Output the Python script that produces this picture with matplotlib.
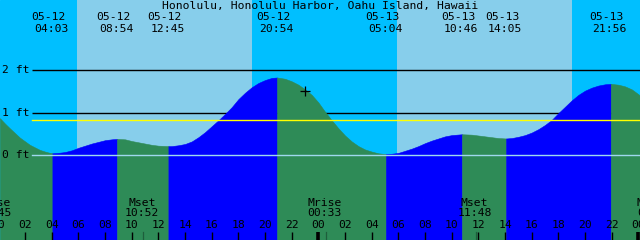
import matplotlib
matplotlib.use("Agg")
import matplotlib.pyplot as plt

# ---------------- data ----------------
title = "Honolulu, Honolulu Harbor, Oahu Island, Hawaii"

# tide curve, hours since 05-12 00:00 and height in ft
curve_t = [0.11, 0.5, 0.86, 1.61, 2.36, 3.11, 3.5, 3.86, 4.05,
           4.5, 5.0, 5.5, 6.0, 6.5, 7.0, 7.5, 8.0, 8.5, 8.9,
           9.5, 10.0, 10.5, 11.0, 11.5, 12.0, 12.75,
           13.0, 13.5, 14.0, 14.5, 15.0, 15.5, 16.0, 16.5, 17.0, 17.5, 18.0,
           18.5, 19.0, 19.5, 20.0, 20.5, 20.9,
           21.5, 22.0, 22.5, 23.0, 23.5, 24.0, 24.5, 25.0, 25.5, 26.0, 26.5,
           27.0, 27.5, 28.0, 28.5, 29.07,
           29.5, 30.0, 30.5, 31.0, 31.5, 32.0, 32.5, 33.0, 33.5, 34.0, 34.77,
           35.5, 36.0, 36.5, 37.0, 37.5, 38.08,
           38.5, 39.0, 39.5, 40.0, 40.5, 41.0, 41.5, 42.0, 42.5, 43.0, 43.5,
           44.0, 44.5, 45.0, 45.5, 45.93,
           46.5, 47.0, 47.5, 48.15]
curve_h = [0.87, 0.74, 0.63, 0.41, 0.24, 0.12, 0.08, 0.05, 0.04,
           0.05, 0.07, 0.11, 0.17, 0.22, 0.27, 0.31, 0.35, 0.37, 0.38,
           0.37, 0.33, 0.30, 0.27, 0.24, 0.22, 0.21,
           0.21, 0.23, 0.26, 0.32, 0.42, 0.54, 0.68, 0.82, 0.97, 1.13, 1.32,
           1.47, 1.60, 1.70, 1.77, 1.82, 1.83,
           1.80, 1.74, 1.66, 1.55, 1.42, 1.24, 1.02, 0.82, 0.63, 0.46, 0.32,
           0.21, 0.13, 0.08, 0.04, 0.02,
           0.03, 0.05, 0.10, 0.15, 0.21, 0.28, 0.34, 0.39, 0.44, 0.47, 0.49,
           0.48, 0.46, 0.44, 0.42, 0.40, 0.39,
           0.40, 0.43, 0.47, 0.53, 0.61, 0.71, 0.83, 0.99, 1.14, 1.29, 1.42,
           1.52, 1.59, 1.64, 1.67, 1.68,
           1.66, 1.62, 1.55, 1.40]

# high / low tide events
event_dates = ["05-12", "05-12", "05-12", "05-12", "05-13", "05-13", "05-13", "05-13"]
event_times = ["04:03", "08:54", "12:45", "20:54", "05:04", "10:46", "14:05", "21:56"]

# moon events
moon_names = ["Mrise", "Mset", "Mrise", "Mset", "Mrise"]
moon_days = [-1, 0, 1, 1, 2]
moon_times = ["23:45", "10:52", "00:33", "11:48", "01:15"]

# daylight intervals (sunrise, sunset) in hours
day_start = [5.89, 29.89]
day_end = [19.01, 43.01]

level_ticks = [0, 1, 2]
level_labels = ["0 ft", "1 ft", "2 ft"]
mean_level = 0.83
now_t, now_h = 22.99, 1.51
hour_ticks = list(range(0, 50, 2))

# ---------------- layout helpers ----------------
W, H = 640, 240
PX_PER_H = W / 48.0
X0 = 0.12                    # hour at left edge
ZERO_PX, PX_PER_FT = 155.0, 42.35


def hx(px):
    return X0 + px / PX_PER_H


def fy(py):
    return (ZERO_PX - py) / PX_PER_FT


def to_hours(day, s):
    hh, mm = s.split(":")
    return day * 24 + int(hh) + int(mm) / 60.0


NIGHT = "#00BFFF"
DAY = "#87CEEB"
RISE = "#0000FF"
FALL = "#2E8B57"
FONT = dict(family="DejaVu Sans Mono", fontsize=8.2, color="black")

fig = plt.figure(figsize=(W / 100, H / 100), dpi=100)
ax = fig.add_axes([0, 0, 1, 1])
ax.set_xlim(hx(0), hx(W))
ax.set_ylim(fy(H), fy(0))
ax.axis("off")
ax.add_patch(plt.Rectangle((hx(0), fy(H)), 48, fy(0) - fy(H), color=NIGHT, zorder=0))
for a, b in zip(day_start, day_end):
    ax.axvspan(a, b, color=DAY, lw=0, zorder=1)

# level grid lines (behind water)
for lv, lab in zip(level_ticks, level_labels):
    if lv != 0:
        ax.plot([hx(32), hx(W)], [lv, lv], color="black", lw=1.0, zorder=2,
                solid_capstyle="butt")
    ax.text(hx(2), lv, lab, ha="left", va="center", zorder=6, **FONT)

# water, coloured by rising / falling
ext_hours = [to_hours(0 if d == "05-12" else 1, t) for d, t in zip(event_dates, event_times)]
ext_idx = [min(range(len(curve_t)), key=lambda i: abs(curve_t[i] - h)) for h in ext_hours]
bounds = [0] + ext_idx + [len(curve_t) - 1]
for a, b in zip(bounds[:-1], bounds[1:]):
    ts = curve_t[a:b + 1]
    hs = curve_h[a:b + 1]
    col = RISE if hs[-1] > hs[0] else FALL
    ax.fill_between(ts, hs, fy(H), color=col, lw=0.4, edgecolor=col, zorder=3)

# datum and mean level lines
ax.plot([hx(32), hx(W)], [0, 0], color="#9FD8EE", lw=1.0, zorder=4)
ax.plot([hx(32), hx(W)], [mean_level, mean_level], color="#FFFF00", lw=1.0, zorder=4)

ax.plot([now_t], [now_h], marker="+", color="black", ms=7, mew=0.9, zorder=5)

# title and event labels
ax.text(hx(320), fy(6), title, ha="center", va="center", zorder=6, **FONT)
for h, d, t in zip(ext_hours, event_dates, event_times):
    ax.text(h - 4 / PX_PER_H, fy(17.5), d, ha="center", va="center", zorder=6, **FONT)
    ax.text(h - 1 / PX_PER_H, fy(29.5), t, ha="center", va="center", zorder=6, **FONT)

# moon events
for n, d, t in zip(moon_names, moon_days, moon_times):
    h = to_hours(d, t)
    ax.text(h - 1 / PX_PER_H, fy(202.5), n, ha="center", va="center", zorder=6, **FONT)
    ax.text(h - 1 / PX_PER_H, fy(213.5), t, ha="center", va="center", zorder=6, **FONT)
    ax.plot([h, h], [fy(232), fy(H)], color="#1E5E3C", lw=0.9, zorder=5)

# hour ticks
for hr in hour_ticks:
    ax.text(hr, fy(225), "%02d" % (hr % 24), ha="center", va="center", zorder=6, **FONT)
    lw = 2.6 if hr % 24 == 0 else 1.0
    ax.plot([hr, hr], [fy(232), fy(H)], color="black", lw=lw, zorder=5,
            solid_capstyle="butt")

fig.savefig("out.png", dpi=100)
